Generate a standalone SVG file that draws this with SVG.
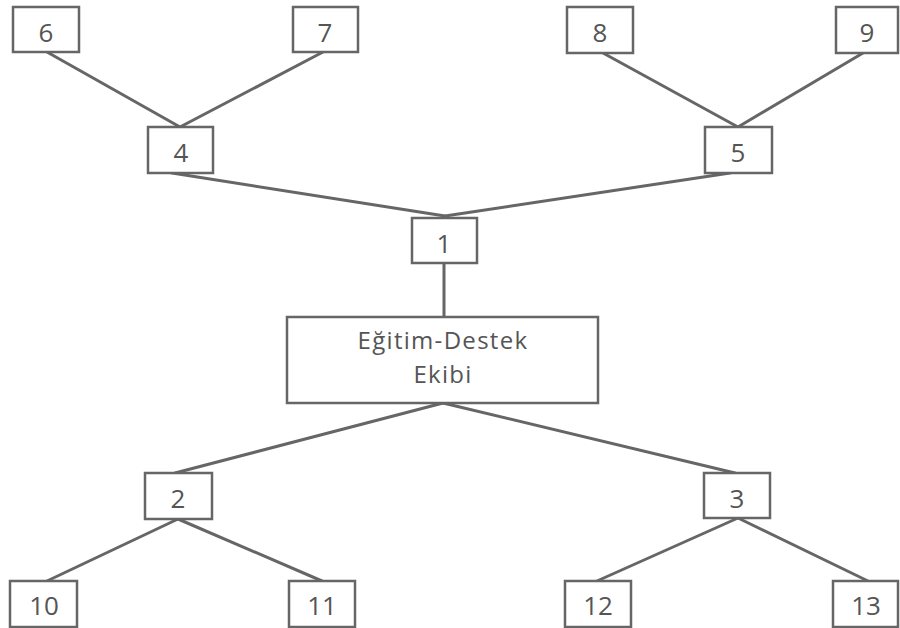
<svg xmlns="http://www.w3.org/2000/svg" width="900" height="628" viewBox="0 0 900 628">
<style>
.box{fill:#fff;stroke:#666;stroke-width:2.5}
.lbl{font-family:"Open Sans","DejaVu Sans",sans-serif;font-size:26px;fill:#555;text-anchor:middle}
.big{font-family:"Open Sans","DejaVu Sans",sans-serif;font-size:24px;letter-spacing:1.3px;fill:#555;text-anchor:middle}
.con line{stroke:#666;stroke-width:3;stroke-linecap:round}
</style>
<rect width="900" height="628" fill="#fff"/>
<g class="con" id="connectors">
<line x1="47" y1="52" x2="180" y2="127"/>
<line x1="323" y1="52" x2="180" y2="127"/>
<line x1="603" y1="53" x2="738" y2="127"/>
<line x1="863" y1="53" x2="738" y2="127"/>
<line x1="172" y1="173" x2="445" y2="216"/>
<line x1="730" y1="173" x2="445" y2="216"/>
<line x1="444" y1="263" x2="444" y2="317"/>
<line x1="443" y1="403" x2="175" y2="473"/>
<line x1="443" y1="403" x2="735" y2="473"/>
<line x1="178" y1="519" x2="47" y2="581"/>
<line x1="178" y1="519" x2="322" y2="581"/>
<line x1="738" y1="518" x2="597" y2="581"/>
<line x1="738" y1="518" x2="868" y2="581"/>
</g>
<g id="n6"><rect class="box" x="13" y="7" width="66" height="45"/><text class="lbl" x="46" y="42">6</text></g>
<g id="n7"><rect class="box" x="293" y="7" width="65" height="45"/><text class="lbl" x="325" y="42">7</text></g>
<g id="n8"><rect class="box" x="567" y="7" width="66" height="46"/><text class="lbl" x="600" y="42">8</text></g>
<g id="n9"><rect class="box" x="836" y="7" width="62" height="46"/><text class="lbl" x="867" y="42">9</text></g>
<g id="n4"><rect class="box" x="148" y="127" width="65" height="46"/><text class="lbl" x="181" y="162">4</text></g>
<g id="n5"><rect class="box" x="705" y="127" width="67" height="46"/><text class="lbl" x="738" y="162">5</text></g>
<g id="n1"><rect class="box" x="412" y="218" width="65" height="45"/><text class="lbl" x="444" y="253">1</text></g>
<g id="center"><rect class="box" x="287" y="317" width="311" height="86"/><text class="big" x="443" y="349">Eğitim-Destek</text><text class="big" x="443" y="383">Ekibi</text></g>
<g id="n2"><rect class="box" x="145" y="473" width="67" height="46"/><text class="lbl" x="178" y="508">2</text></g>
<g id="n3"><rect class="box" x="704" y="473" width="66" height="45"/><text class="lbl" x="737" y="508">3</text></g>
<g id="n10"><rect class="box" x="10" y="581" width="67" height="46"/><text class="lbl" x="44" y="615">10</text></g>
<g id="n11"><rect class="box" x="289" y="581" width="66" height="46"/><text class="lbl" x="322" y="615">11</text></g>
<g id="n12"><rect class="box" x="565" y="581" width="66" height="46"/><text class="lbl" x="598" y="615">12</text></g>
<g id="n13"><rect class="box" x="833" y="581" width="65" height="46"/><text class="lbl" x="866" y="615">13</text></g>
</svg>
